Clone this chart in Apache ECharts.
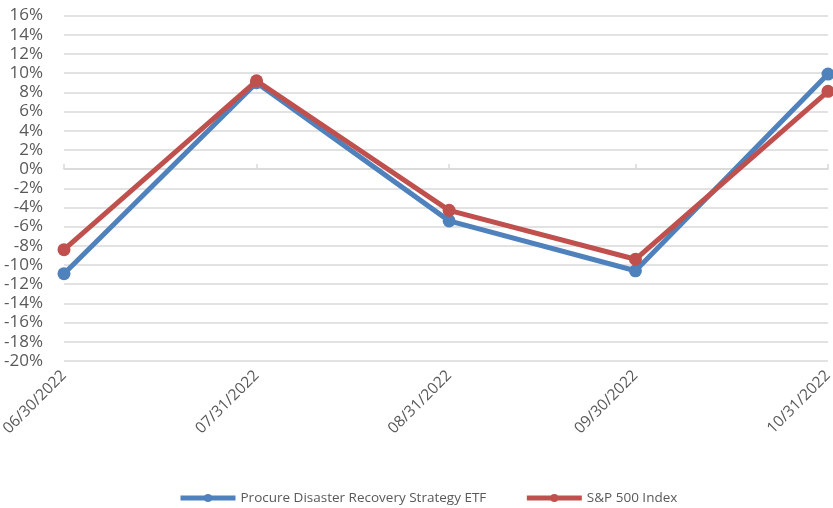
<!DOCTYPE html>
<html>
<head>
<meta charset="utf-8">
<script src="https://cdn.jsdelivr.net/npm/echarts@6/dist/echarts.min.js"></script>
<style>
  html, body { margin: 0; padding: 0; background: #fff; }
  #main { width: 833px; height: 508px; }
</style>
</head>
<body>
<div id="main"></div>
<script>
// 月末日期（横轴按实际天数间隔）
const dateLabels = ['06/30/2022', '07/31/2022', '08/31/2022', '09/30/2022', '10/31/2022']
const seriesNames = ['Procure Disaster Recovery Strategy ETF', 'S&P 500 Index']
const etfValues = [-10.9, 9.0, -5.4, -10.6, 9.9]
const spxValues = [-8.4, 9.2, -4.3, -9.4, 8.1]
const yMin = -20
const yMax = 16
const yStep = 2

// 日期 -> 距第一个日期的天数
const dayMs = 24 * 3600 * 1000
const toTime = s => { const [m, d, y] = s.split('/').map(Number); return Date.UTC(y, m - 1, d) }
const days = dateLabels.map(s => Math.round((toTime(s) - toTime(dateLabels[0])) / dayMs))
const labelOf = v => { const i = days.indexOf(Math.round(v)); return i >= 0 ? dateLabels[i] : '' }

const chart = echarts.init(document.getElementById('main'))
const font = 'Open Sans'
const textColor = '#595959'
const gridColor = '#d9d9d9'

const option = {
  animation: false,
  textStyle: { fontFamily: font },
  grid: { left: 64, right: 5, top: 15.5, bottom: 147, containLabel: false, outerBoundsMode: 'none' },
  legend: {
    left: 173,
    top: 486,
    itemWidth: 55,
    itemHeight: 10,
    itemGap: 38,
    lineStyle: { width: 5 },
    textStyle: { fontFamily: font, fontSize: 13.5, color: textColor },
    data: seriesNames
  },
  xAxis: [
    {
      type: 'value',
      min: days[0],
      max: days[days.length - 1],
      axisLine: { show: false, onZero: false },
      axisTick: { show: false },
      splitLine: { show: false },
      axisLabel: {
        customValues: days,
        formatter: v => labelOf(v),
        rotate: 45,
        margin: 12,
        fontFamily: font,
        fontSize: 15.5,
        color: textColor,
        showMinLabel: true,
        showMaxLabel: true
      }
    },
    {
      type: 'value',
      position: 'bottom',
      min: days[0],
      max: days[days.length - 1],
      axisLine: { show: true, onZero: true, lineStyle: { color: gridColor, width: 1.5 } },
      axisTick: { show: true, inside: true, length: 5, customValues: days, lineStyle: { color: gridColor, width: 1.5 } },
      axisLabel: { show: false },
      splitLine: { show: false }
    }
  ],
  yAxis: {
    type: 'value',
    min: yMin,
    max: yMax,
    interval: yStep,
    axisLine: { show: false },
    axisTick: { show: false },
    axisLabel: {
      formatter: '{value}%',
      margin: 21,
      fontFamily: font,
      fontSize: 17,
      color: textColor
    },
    splitLine: { lineStyle: { color: gridColor, width: 1.5 } }
  },
  series: [
    {
      name: seriesNames[0],
      type: 'line',
      xAxisIndex: 0,
      data: days.map((d, i) => [d, etfValues[i]]),
      symbol: 'circle',
      symbolSize: 13,
      lineStyle: { width: 5, color: '#4F81BD' },
      itemStyle: { color: '#4F81BD' },
      z: 2
    },
    {
      name: seriesNames[1],
      type: 'line',
      xAxisIndex: 0,
      data: days.map((d, i) => [d, spxValues[i]]),
      symbol: 'circle',
      symbolSize: 13,
      lineStyle: { width: 5, color: '#C0504D' },
      itemStyle: { color: '#C0504D' },
      z: 3
    }
  ]
}

chart.setOption(option)
</script>
</body>
</html>
